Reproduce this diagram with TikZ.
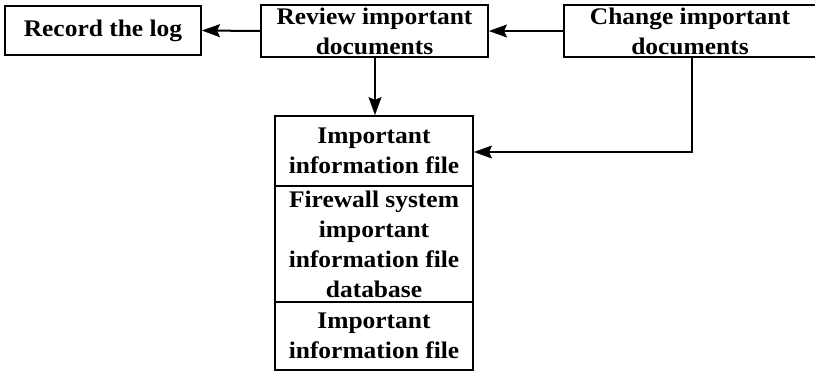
\documentclass[tikz,border=0pt]{standalone}
\usepackage{fontspec}
\setmainfont{Liberation Serif}[FakeStretch=1.07]
\usetikzlibrary{arrows.meta}
\begin{document}
\begin{tikzpicture}[x=1pt,y=-1pt,
  box/.style={draw=black, line width=2pt, fill=white, inner sep=0pt,
    align=center, font=\fontsize{23.8}{30}\selectfont\bfseries},
  flow/.style={draw=black, line width=2pt,
    -{Stealth[length=18pt,width=13pt,inset=3pt,line width=0.5pt]}}]
  \useasboundingbox (0,0) rectangle (815,373);

  % top row
  \node[box, minimum width=196pt, minimum height=49pt] (rec) at (103,30.5) {Record the log};
  \node[box, minimum width=227pt, minimum height=52pt] (rev) at (374.5,31) {Review important\\documents};
  \node[box, minimum width=252pt, minimum height=52pt] (chg) at (690,31) {Change important\\documents};

  % stacked file column
  \node[box, minimum width=198pt, minimum height=70pt] (f1) at (374,151) {Important\\information file};
  \node[box, minimum width=198pt, minimum height=116pt] (db) at (374,244) {Firewall system\\important\\information file\\database};
  \node[box, minimum width=198pt, minimum height=68pt] (f2) at (374,336) {Important\\information file};

  % connectors
  \coordinate (down) at (375,57);
  \coordinate (bend) at (692,152);
  \draw[flow] (rev.west) -- (rec.east);
  \draw[flow] (chg.west) -- (rev.east);
  \draw[flow] (down) -- (down |- f1.north);
  \draw[flow] (chg.south -| bend) -- (bend) -- (f1.east |- bend);
\end{tikzpicture}
\end{document}
